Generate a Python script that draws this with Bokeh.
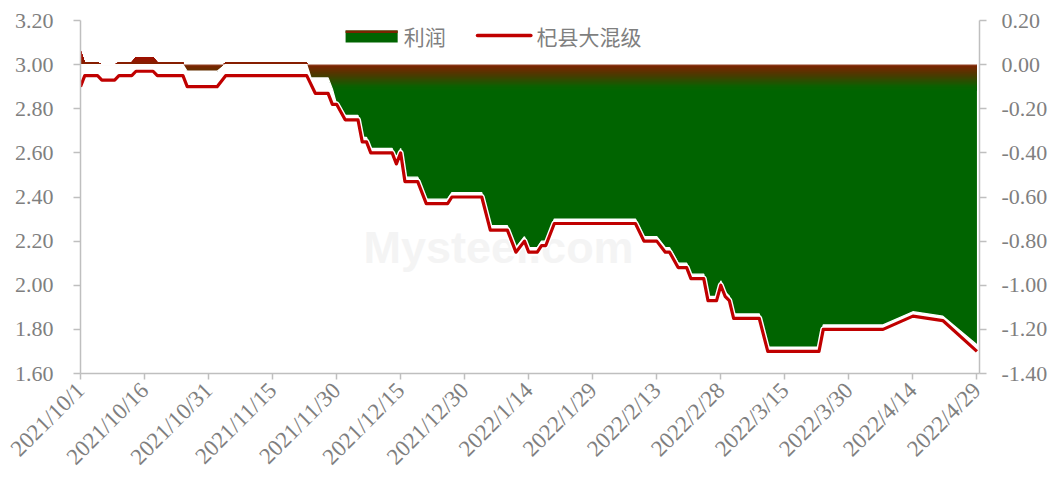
import numpy as np
import pandas as pd
from bokeh.plotting import figure
from bokeh.models import Range1d, LinearAxis, FixedTicker, NumeralTickFormatter
from bokeh.embed import file_html
from bokeh.resources import INLINE
from bokeh.core.properties import value

# ---------------- data ----------------
start_date = "2021-10-01"
end_date = "2022-04-29"

price_dates = ["2021-10-01", "2021-10-02", "2021-10-05", "2021-10-06", "2021-10-09", "2021-10-10",
               "2021-10-13", "2021-10-14", "2021-10-18", "2021-10-19", "2021-10-25", "2021-10-26",
               "2021-11-02", "2021-11-04", "2021-11-23", "2021-11-25", "2021-11-28", "2021-11-29",
               "2021-11-30", "2021-12-02", "2021-12-05", "2021-12-06", "2021-12-07", "2021-12-08",
               "2021-12-13", "2021-12-14", "2021-12-15", "2021-12-16", "2021-12-19", "2021-12-21",
               "2021-12-26", "2021-12-27", "2022-01-03", "2022-01-05", "2022-01-09", "2022-01-11",
               "2022-01-13", "2022-01-14", "2022-01-16", "2022-01-17", "2022-01-18", "2022-01-20",
               "2022-02-08", "2022-02-10", "2022-02-13", "2022-02-15", "2022-02-16", "2022-02-18",
               "2022-02-20", "2022-02-21", "2022-02-24", "2022-02-25", "2022-02-27", "2022-02-28",
               "2022-03-01", "2022-03-02", "2022-03-03", "2022-03-09", "2022-03-11", "2022-03-23",
               "2022-03-24", "2022-04-07", "2022-04-14", "2022-04-21", "2022-04-29"]
price_values = [2.90, 2.95, 2.95, 2.93, 2.93, 2.95,
                2.95, 2.97, 2.97, 2.95, 2.95, 2.90,
                2.90, 2.95, 2.95, 2.87, 2.87, 2.82,
                2.82, 2.75, 2.75, 2.65, 2.65, 2.60,
                2.60, 2.55, 2.60, 2.47, 2.47, 2.37,
                2.37, 2.40, 2.40, 2.25, 2.25, 2.15,
                2.20, 2.15, 2.15, 2.18, 2.18, 2.28,
                2.28, 2.20, 2.20, 2.15, 2.15, 2.08,
                2.08, 2.03, 2.03, 1.93, 1.93, 2.00,
                1.95, 1.93, 1.85, 1.85, 1.70, 1.70,
                1.80, 1.80, 1.86, 1.84, 1.70]

profit_dates = ["2021-10-01", "2021-10-02", "2021-10-05", "2021-10-06", "2021-10-09", "2021-10-10",
                "2021-10-13", "2021-10-14", "2021-10-18", "2021-10-19", "2021-10-25", "2021-10-26",
                "2021-11-02", "2021-11-04", "2021-11-23", "2021-11-24", "2021-11-28", "2021-11-29",
                "2021-11-30", "2021-12-01", "2021-12-05", "2021-12-06", "2021-12-07", "2021-12-08",
                "2021-12-13", "2021-12-14", "2021-12-15", "2021-12-16", "2021-12-19", "2021-12-21",
                "2021-12-26", "2021-12-27", "2022-01-03", "2022-01-05", "2022-01-09", "2022-01-11",
                "2022-01-13", "2022-01-14", "2022-01-16", "2022-01-17", "2022-01-18", "2022-01-20",
                "2022-02-08", "2022-02-10", "2022-02-13", "2022-02-15", "2022-02-16", "2022-02-18",
                "2022-02-20", "2022-02-21", "2022-02-24", "2022-02-25", "2022-02-27", "2022-02-28",
                "2022-03-01", "2022-03-02", "2022-03-03", "2022-03-09", "2022-03-11", "2022-03-23",
                "2022-03-24", "2022-04-07", "2022-04-14", "2022-04-21", "2022-04-29"]
profit_values = [0.07, 0.012, 0.012, 0.00, 0.00, 0.012,
                 0.012, 0.035, 0.035, 0.012, 0.012, -0.03,
                 -0.03, 0.012, 0.012, -0.06, -0.06, -0.11,
                 -0.18, -0.23, -0.23, -0.33, -0.33, -0.38,
                 -0.38, -0.43, -0.38, -0.51, -0.51, -0.61,
                 -0.61, -0.58, -0.58, -0.73, -0.73, -0.83,
                 -0.78, -0.83, -0.83, -0.80, -0.80, -0.70,
                 -0.70, -0.78, -0.78, -0.83, -0.83, -0.90,
                 -0.90, -0.95, -0.95, -1.05, -1.05, -0.98,
                 -1.03, -1.05, -1.13, -1.13, -1.28, -1.28,
                 -1.18, -1.18, -1.12, -1.14, -1.27]

tick_labels = ["2021/10/1", "2021/10/16", "2021/10/31", "2021/11/15", "2021/11/30", "2021/12/15",
               "2021/12/30", "2022/1/14", "2022/1/29", "2022/2/13", "2022/2/28", "2022/3/15",
               "2022/3/30", "2022/4/14", "2022/4/29"]
left_ticks = [1.60, 1.80, 2.00, 2.20, 2.40, 2.60, 2.80, 3.00, 3.20]
right_ticks = [-1.40, -1.20, -1.00, -0.80, -0.60, -0.40, -0.20, 0.00, 0.20]

series_profit = "利润"
series_price = "杞县大混级"

# ---------------- helpers ----------------
t0 = pd.Timestamp(start_date)


def to_days(dates, fmt=None):
    idx = pd.to_datetime(dates, format=fmt)
    return np.asarray((idx - t0).days, dtype=float)


px = to_days(price_dates)
qx = to_days(profit_dates)
tx = to_days(tick_labels, fmt="%Y/%m/%d")
x_end = float(to_days([end_date])[0]) + 0.6

GRAY = "#7f7f7f"
AXIS = "#bfbfbf"

p = figure(width=1056, height=481, x_range=Range1d(0, x_end), y_range=Range1d(1.6, 3.2),
           output_backend="svg", toolbar_location=None,
           min_border_left=80, min_border_right=77, min_border_top=20, min_border_bottom=108)
p.extra_y_ranges = {"profit": Range1d(-1.4, 0.2)}
p.grid.visible = False
p.outline_line_color = None
p.background_fill_color = "white"
p.border_fill_color = "white"

# watermark (very faint)
p.text(x=[66.3], y=[2.171], text=["Mysteel.com"], text_font=value("Liberation Sans"),
       text_font_style="bold", text_font_size="45px", text_color="#f4f4f4",
       text_baseline="alphabetic", text_align="left")

# ---------------- profit area with vertical gradient ----------------
# render-time resampling of the same polyline so that bands can be clipped
xs = np.linspace(0, qx[-1], 4201)
pv = np.interp(xs, qx, profit_values)
neg = np.minimum(pv, 0.0)
pos = np.maximum(pv, 0.0)

stops_v = np.array([-0.12, -0.10, -0.05, 0.0, 0.035, 0.09])
stops_r = np.array([0, 10, 72, 128, 160, 172])
stops_g = np.array([100, 98, 60, 34, 14, 6])


def col(v):
    r = int(round(np.interp(v, stops_v, stops_r)))
    g = int(round(np.interp(v, stops_v, stops_g)))
    return "#%02x%02x%02x" % (r, g, 0)


p.varea(x=xs, y1=neg, y2=np.zeros_like(xs), fill_color="#006400", y_range_name="profit")
step = 0.005
for a in np.arange(-0.12, -0.001, step):
    p.varea(x=xs, y1=np.maximum(neg, a), y2=np.zeros_like(xs),
            fill_color=col(a + step / 2), y_range_name="profit")
for b in np.arange(0.08, 0.001, -step):
    p.varea(x=xs, y1=np.zeros_like(xs), y2=np.minimum(pos, b),
            fill_color=col(b - step / 2), y_range_name="profit")

# light outline of the area
p.line(x=[0, qx[-1]], y=[0, 0], line_color="#f3d6cf", line_alpha=0.8, line_width=1,
       y_range_name="profit")
p.line(x=qx, y=np.minimum(np.asarray(profit_values), 0.0), line_color="white", line_width=1.3,
       y_range_name="profit")

# ---------------- price line ----------------
p.line(x=px, y=price_values, line_color="white", line_width=6, line_join="round")
p.line(x=px, y=price_values, line_color="#c00000", line_width=3.2, line_join="round")

# ---------------- legend (drawn) ----------------
p.quad(left=[62.1], right=[74.3], bottom=[3.100], top=[3.155], fill_color="#006400", line_color=None)
p.quad(left=[62.1], right=[74.3], bottom=[3.143], top=[3.155], fill_color="#7a2400", line_color=None)
p.text(x=[75.7], y=[3.128], text=[series_profit], text_font=value("Noto Sans CJK SC"),
       text_font_size="21px", text_color=GRAY, text_baseline="middle", text_align="left")
p.line(x=[93.0, 105.5], y=[3.132, 3.132], line_color="#c00000", line_width=3.5, line_cap="round")
p.text(x=[106.8], y=[3.128], text=[series_price], text_font=value("Noto Sans CJK SC"),
       text_font_size="21px", text_color=GRAY, text_baseline="middle", text_align="left")

# ---------------- axes ----------------
right_axis = LinearAxis(y_range_name="profit")
p.add_layout(right_axis, "right")

for ax, ticks in ((p.yaxis[0], left_ticks), (right_axis, right_ticks)):
    ax.ticker = FixedTicker(ticks=ticks)
    ax.formatter = NumeralTickFormatter(format="0.00")

xa = p.xaxis[0]
xa.ticker = FixedTicker(ticks=list(tx))
xa.major_label_overrides = {float(t): lab for t, lab in zip(tx, tick_labels)}
xa.major_label_orientation = np.pi / 4

for ax in (p.yaxis[0], right_axis, xa):
    ax.axis_line_color = AXIS
    ax.axis_line_width = 1.5
    ax.major_tick_line_color = AXIS
    ax.major_tick_line_width = 1.5
    ax.major_tick_out = 7
    ax.major_tick_in = 0
    ax.minor_tick_line_color = None
    ax.major_label_text_font = "Liberation Serif"
    ax.major_label_text_font_size = "22px"
    ax.major_label_text_color = GRAY

p.yaxis[0].major_label_standoff = 20
right_axis.major_label_standoff = 15
xa.major_label_standoff = 7
xa.major_label_text_font_size = "23px"
xa.major_tick_out = 6

open("out.html", "w").write(file_html(p, INLINE))
